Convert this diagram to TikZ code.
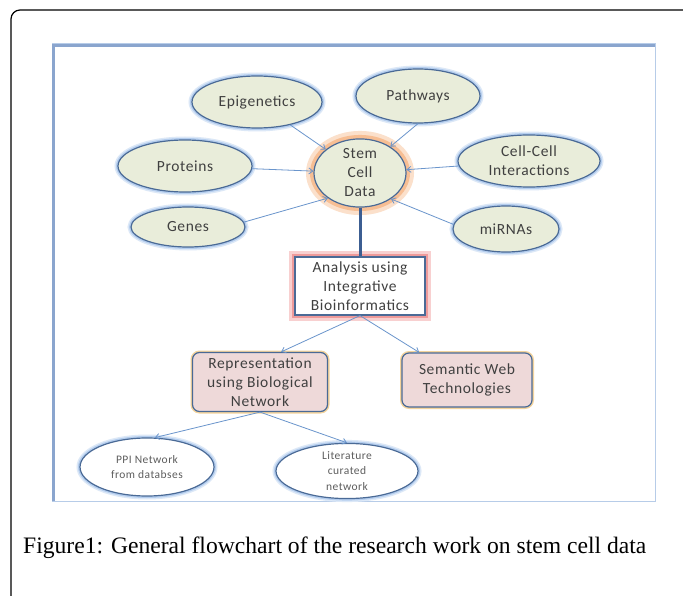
\documentclass[tikz,border=0pt]{standalone}
\usepackage{fontspec}
\setmainfont{Liberation Serif}
\newfontfamily\diagfont[LetterSpace=4]{Carlito}
\usetikzlibrary{shapes.geometric,arrows.meta,calc}
\definecolor{ellfill}{HTML}{E9EDDA}
\definecolor{ellline}{HTML}{4A6A96}
\definecolor{ellglow}{HTML}{B4CDEE}
\definecolor{ellglowb}{HTML}{DCE8F7}
\definecolor{arrowc}{HTML}{6A95CC}
\definecolor{txt}{HTML}{404040}
\definecolor{stemglow}{HTML}{F7BE93}
\definecolor{stemglowb}{HTML}{FBE0CB}
\definecolor{anaglow}{HTML}{EE9A9A}
\definecolor{anaglowb}{HTML}{F8D0D0}
\definecolor{repfill}{HTML}{EED9D9}
\definecolor{repglow}{HTML}{F3D39C}
\definecolor{framedark}{HTML}{8AA5CE}
\definecolor{framelight}{HTML}{B7CCE8}
\definecolor{thickc}{HTML}{3C5E92}
\tikzset{
  ell/.style={ellipse, draw=ellline, line width=1.2pt, fill=ellfill, inner sep=0pt,
    align=center, text=txt, font=\diagfont\fontsize{15.5}{19}\selectfont,
    preaction={draw=ellglowb, line width=7pt},
    preaction={draw=ellglow, line width=4pt}},
  wellipse/.style={ellipse, draw=ellline, line width=1.2pt, fill=white, inner sep=0pt,
    align=center, text=txt!85, font=\diagfont\fontsize{11.5}{15.5}\selectfont,
    preaction={draw=ellglowb, line width=7pt},
    preaction={draw=ellglow, line width=4pt}},
  stemnode/.style={ell, preaction={draw=stemglowb, line width=16pt},
    preaction={draw=stemglow, line width=8pt}},
  anabox/.style={rectangle, draw=ellline, line width=1.2pt, fill=white, inner sep=0pt,
    align=center, text=txt, font=\diagfont\fontsize{15.5}{19}\selectfont,
    preaction={draw=anaglowb, line width=12pt},
    preaction={draw=anaglow, line width=6pt}},
  repbox/.style={rectangle, rounded corners=7pt, draw=ellline, line width=1.2pt, fill=repfill,
    inner sep=0pt, align=center, text=txt, font=\diagfont\fontsize{15.5}{19}\selectfont,
    preaction={draw=repglow, line width=4pt}},
  arr/.style={draw=arrowc, line width=0.8pt, -{Straight Barb[length=4pt,width=6pt]}},
}
\begin{document}
\begin{tikzpicture}[x=1pt,y=-1pt]
\useasboundingbox (0,0) rectangle (683,596);
\fill[white] (0,0) rectangle (683,596);
% outer frame
\draw[line width=1.2pt, rounded corners=9pt] (11,600) -- (11,10) -- (700,10);
% inner frame
\draw[framelight, line width=1pt] (52,44) rectangle (655,501);
\draw[framedark, line width=3pt] (53.5,501) -- (53.5,45.5) -- (655,45.5);
% nodes
\node[stemnode, minimum width=92pt, minimum height=60pt] (stem) at (360,173) {Stem\\Cell\\Data};
\node[ell, minimum width=130pt, minimum height=52pt] (epi) at (257,102) {Epigenetics};
\node[ell, minimum width=124pt, minimum height=54pt] (path) at (418,96) {Pathways};
\node[ell, minimum width=134pt, minimum height=52pt] (prot) at (185,166) {Proteins};
\node[ell, minimum width=142pt, minimum height=52pt] (cell) at (529,161) {Cell-Cell\\Interactions};
\node[ell, minimum width=114pt, minimum height=40pt] (genes) at (188,227) {Genes};
\node[ell, minimum width=106pt, minimum height=46pt] (mir) at (506,229) {miRNAs};
\node[anabox, minimum width=130pt, minimum height=58pt] (ana) at (360,286) {Analysis using\\Integrative\\Bioinformatics};
\node[repbox, minimum width=135pt, minimum height=59pt] (rep) at (260,382) {Representation\\using Biological\\Network};
\node[repbox, minimum width=130pt, minimum height=54pt] (sem) at (467,380) {Semantic Web\\Technologies};
\node[wellipse, minimum width=134pt, minimum height=58pt] (ppi) at (147,467) {PPI Network\\from databses};
\node[wellipse, minimum width=142pt, minimum height=54pt] (lit) at (347,471) {Literature\\curated\\network};
% connectors
\draw[arr] (epi) -- (stem);
\draw[arr] (path.south) -- (stem.41);
\draw[arr] (prot) -- (stem);
\draw[arr] (cell) -- (stem);
\draw[arr] (genes.5) -- (stem.218);
\draw[arr] (mir.175) -- (stem.-40);
\draw[thickc, line width=3pt] (stem.south) -- (ana.north);
\draw[arr] (ana.south) -- (rep.55);
\draw[arr] (ana.south) -- (sem.150);
\draw[arr] (rep.south) -- (ppi.75);
\draw[arr] (rep.south) -- (lit.north);
% caption
\node[anchor=base west, inner sep=0pt, font=\fontsize{23.6}{28}\selectfont] (cap) at (23,553) {Figure1: General flowchart of the research work on stem cell data};
\end{tikzpicture}
\end{document}
